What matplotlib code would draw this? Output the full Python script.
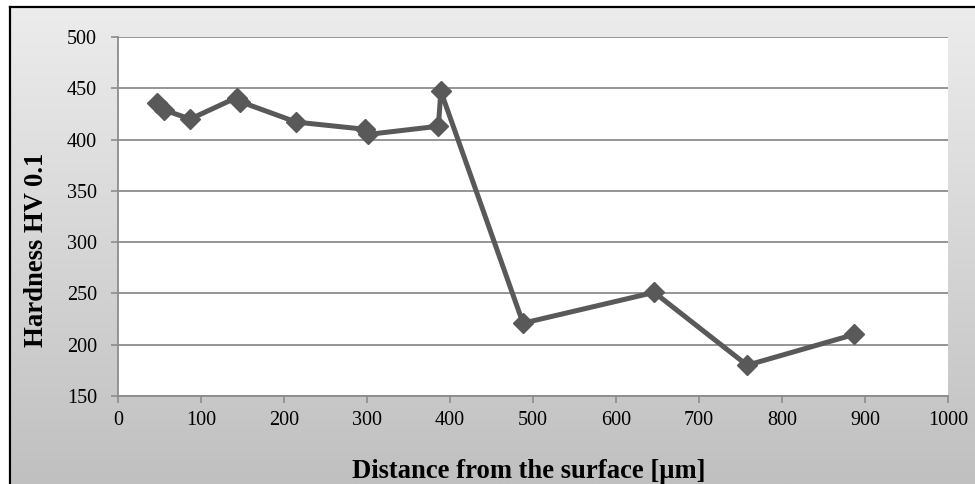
import numpy as np
import matplotlib
matplotlib.use("Agg")
import matplotlib.pyplot as plt
from matplotlib.patches import Rectangle
from matplotlib.colors import LinearSegmentedColormap

# hardness profile
distance_um = [47, 55, 87, 143, 147, 215, 298, 301, 386, 389, 488, 646, 758, 887]
hardness_hv = [436, 429, 420, 441, 437, 417, 410, 405, 413, 447, 221, 251, 180, 210]

x_ticks = [0, 100, 200, 300, 400, 500, 600, 700, 800, 900, 1000]
y_ticks = [150, 200, 250, 300, 350, 400, 450, 500]

plt.rcParams['font.family'] = ['Liberation Serif', 'DejaVu Serif']

fig = plt.figure(figsize=(9.75, 4.84), dpi=100)

# gradient chart-area background, light at top, gray at bottom
bg = fig.add_axes([0, 0, 1, 1], zorder=0)
grad = np.linspace(0, 1, 256).reshape(-1, 1)
bg.imshow(grad, aspect='auto', cmap=LinearSegmentedColormap.from_list('g', ['#ededed', '#c0c0c0']),
          extent=[0, 1, 0, 1], origin='upper')
bg.set_xlim(0, 1)
bg.set_ylim(0, 1)
bg.axis('off')
# white strip outside the frame on left and top
bg.add_patch(Rectangle((0, 0), 10 / 975, 1, color='white', zorder=2))
bg.add_patch(Rectangle((0, 1 - 7 / 484), 1, 7 / 484, color='white', zorder=2))
bg.plot([10 / 975, 10 / 975], [0, 1 - 7 / 484], color='black', lw=1.6, zorder=3)
bg.plot([10 / 975, 1], [1 - 7 / 484, 1 - 7 / 484], color='black', lw=1.6, zorder=3)

ax = fig.add_axes([118 / 975, 1 - 396 / 484, (948 - 118) / 975, (396 - 37) / 484], zorder=1)
ax.set_facecolor('white')

ax.plot(distance_um, hardness_hv, color='#595959', lw=3.6, marker='D',
        markersize=10.5, markerfacecolor='#595959', markeredgecolor='#595959',
        zorder=3, clip_on=False)

ax.set_xlim(0, 1000)
ax.set_ylim(150, 500)
ax.set_xticks(x_ticks)
ax.set_yticks(y_ticks)
ax.yaxis.grid(True, color='#8c8c8c', lw=1.3)
ax.set_axisbelow(True)

for side in ['top', 'right']:
    ax.spines[side].set_visible(False)
for side in ['left', 'bottom']:
    ax.spines[side].set_color('#8c8c8c')
    ax.spines[side].set_linewidth(1.3)

ax.tick_params(axis='both', direction='out', length=5, width=1.2, color='#8c8c8c',
               labelsize=14.5, labelcolor='black')
ax.tick_params(axis='y', pad=10)
ax.tick_params(axis='x', pad=6)

fig.text(529 / 975, 1 - 471 / 484, 'Distance from the surface [\u00b5m]', ha='center',
         va='center', fontsize=19.2, fontweight='bold', zorder=5)
fig.text(37 / 975, 1 - 250 / 484, 'Hardness HV 0.1', ha='center', va='center',
         rotation=90, fontsize=19.2, fontweight='bold', zorder=5)

fig.savefig('out.png', dpi=100)
